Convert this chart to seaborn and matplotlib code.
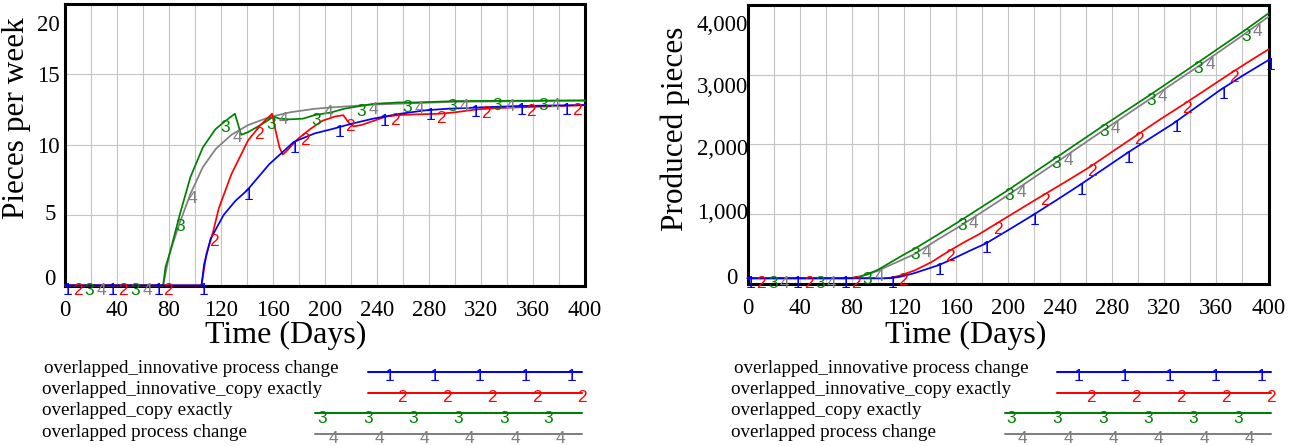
import numpy as np
import pandas as pd
import matplotlib
matplotlib.use("Agg")
import matplotlib.pyplot as plt
import seaborn as sns
from matplotlib.lines import Line2D
from matplotlib.transforms import ScaledTranslation

# ---------------- data ----------------
series_names = [
    "overlapped_innovative process change",
    "overlapped_innovative_copy exactly",
    "overlapped_copy exactly",
    "overlapped process change",
]
series_marks = ["1", "2", "3", "4"]
series_colors = ["#0000ff", "#ff0000", "#008000", "#808080"]

# Left chart: pieces per week
rate_t_1 = [0, 105, 107, 112, 122, 131, 140, 157, 176, 192, 205, 221, 237, 258, 278, 294, 319, 349, 400]
rate_v_1 = [0, 0, 1.5, 3.3, 5.0, 6.0, 6.75, 8.6, 10.2, 10.8, 11.1, 11.5, 11.85, 12.2, 12.45, 12.55, 12.65, 12.75, 12.82]

rate_t_2 = [0, 105, 108.8, 113.6, 118.4, 128, 140.8, 150.4, 159.3, 162, 165, 167.5, 170, 174, 179, 188.5, 198,
            207.7, 214, 218.8, 222, 228, 237.6, 247, 256.5, 269, 288, 300, 316, 332, 364, 400]
rate_v_2 = [0, 0, 2.25, 3.7, 5.5, 7.9, 10.3, 11.4, 12.2, 11.0, 9.8, 9.3, 9.5, 9.9, 10.4, 11.1, 11.7,
            12.0, 12.1, 11.5, 11.3, 11.4, 11.7, 12.0, 12.1, 12.15, 12.2, 12.3, 12.5, 12.6, 12.7, 12.8]

rate_t_3 = [0, 75.5, 77.3, 80.5, 88.5, 96.5, 106, 115.7, 123.6, 130.7, 135.5, 141, 147.6, 154, 160.4, 165,
            173, 183, 192, 205, 214.5, 224, 237, 256, 269, 301, 400]
rate_v_3 = [0, 0, 1.3, 2.25, 5.1, 7.7, 9.8, 11.1, 11.7, 12.2, 10.7, 10.9, 11.25, 11.6, 12.0, 11.85,
            11.8, 11.85, 12.1, 12.3, 12.55, 12.7, 12.9, 13.0, 13.0, 13.1, 13.15]

rate_t_4 = [0, 75.5, 80.5, 88.5, 96.5, 106, 116, 128, 141, 157, 173, 192, 205, 237, 269, 301, 400]
rate_v_4 = [0, 0, 2.3, 4.5, 6.5, 8.4, 9.7, 10.7, 11.4, 11.95, 12.3, 12.55, 12.65, 12.85, 12.95, 13.05, 13.13]

# Right chart: produced pieces
cum_t_1 = [0, 105, 110, 116, 128, 140, 147, 157, 170, 183, 200, 219, 237, 255, 273, 291, 309, 327, 345, 363, 381, 400]
cum_v_1 = [75, 75, 78, 92, 148, 222, 265, 348, 465, 575, 765, 981, 1195, 1413, 1640, 1868, 2085, 2299, 2540, 2780, 2995, 3209]

cum_t_2 = [0, 105, 109, 116, 128, 141, 155, 168, 178, 191, 209, 227, 245, 263, 281, 299, 317, 336, 354, 372, 386, 400]
cum_v_2 = [75, 75, 80, 108, 185, 305, 470, 610, 710, 860, 1065, 1269, 1470, 1676, 1905, 2132, 2360, 2587, 2810, 3033, 3200, 3363]

cum_t_3 = [0, 75, 80, 86, 92, 100, 110, 120, 128, 146, 164, 182, 200, 236, 272, 309, 345, 381, 400]
cum_v_3 = [75, 75, 80, 100, 135, 195, 305, 415, 495, 700, 909, 1125, 1341, 1796, 2252, 2708, 3163, 3625, 3880]

cum_t_4 = [0, 75, 80, 86, 92, 100, 110, 128, 146, 164, 182, 200, 236, 272, 309, 345, 381, 400]
cum_v_4 = [75, 75, 79, 96, 128, 182, 268, 420, 630, 834, 1050, 1270, 1725, 2185, 2650, 3105, 3575, 3832]

x_major = list(range(0, 401, 40))
x_minor = list(range(0, 401, 20))
left_yticks = [0, 5, 10, 15, 20]
left_yticklabels = ["0", "5", "10", "15", "20"]
right_yticks = [0, 1000, 2000, 3000, 4000]
right_yticklabels = ["0", "1,000", "2,000", "3,000", "4,000"]

# ---------------- style ----------------
sns.set_theme(style="white")
plt.rcParams["font.family"] = ["Liberation Serif", "DejaVu Serif"]
SANS = ["Liberation Sans", "DejaVu Sans"]

W, H, DPI = 1294, 446, 100
fig = plt.figure(figsize=(W / DPI, H / DPI), dpi=DPI)
fig.patch.set_facecolor("white")


def px_axes(x0, x1, top, bottom):
    return fig.add_axes([x0 / W, 1 - bottom / H, (x1 - x0) / W, (bottom - top) / H])


def draw_chart(ax, ts, vs, ylim, yticks, yticklabels, ylabel, step, offsets,
               ypad, label_shifts, ylabel_xy, xlabel_xy):
    frames = [pd.DataFrame({"t": t, "v": v, "series": n}) for n, t, v in zip(series_names, ts, vs)]
    df = pd.concat(frames, ignore_index=True)
    sns.lineplot(data=df, x="t", y="v", hue="series", hue_order=series_names[::-1],
                 palette=dict(zip(series_names, series_colors)), estimator=None, sort=False,
                 legend=False, ax=ax, linewidth=1.25)
    for ln in ax.lines:
        ln.set_clip_on(False)
        ln.set_zorder(3)

    up = ScaledTranslation(0, 2.5 / DPI, fig.dpi_scale_trans)
    for i, (t, v) in enumerate(zip(ts, vs)):
        tc = offsets[i]
        while tc <= 402.5:
            val = np.interp(tc - 1.5, t, v)
            ax.text(tc, val, series_marks[i], color=series_colors[i], fontsize=12.5, family=SANS,
                    ha="center", va="top", transform=ax.transData + up, clip_on=False, zorder=5)
            tc += step

    ax.set_xlim(0, 400)
    ax.set_ylim(*ylim)
    ax.set_xticks(x_major)
    ax.set_xticks(x_minor, minor=True)
    ax.set_xticklabels([str(x) for x in x_major])
    ax.set_yticks(yticks)
    ax.set_yticklabels(yticklabels)
    ax.set_axisbelow(True)
    ax.grid(True, which="both", axis="x", color="#c4c4c4", linewidth=0.8)
    ax.grid(True, which="major", axis="y", color="#c4c4c4", linewidth=0.8)
    ax.tick_params(which="both", length=0)
    ax.tick_params(axis="x", pad=10.3, labelsize=16.5, colors="black")
    ax.tick_params(axis="y", pad=ypad, labelsize=16.5, colors="black")
    for s in ax.spines.values():
        s.set_visible(True)
        s.set_color("black")
        s.set_linewidth(2.2)
    for lbl, (dx, dy) in zip(ax.get_yticklabels(), label_shifts):
        lbl.set_transform(lbl.get_transform() + ScaledTranslation(dx / DPI, -dy / DPI, fig.dpi_scale_trans))

    ax.set_ylabel(ylabel, fontsize=22.5, color="black")
    ax.yaxis.label.set_va("center")
    ax.yaxis.set_label_coords(*ylabel_xy)
    ax.set_xlabel("Time (Days)", fontsize=23, color="black")
    ax.xaxis.label.set_va("center")
    ax.xaxis.set_label_coords(*xlabel_xy)


axL = px_axes(65, 585, 4, 285.5)
draw_chart(axL, [rate_t_1, rate_t_2, rate_t_3, rate_t_4], [rate_v_1, rate_v_2, rate_v_3, rate_v_4],
           (-0.01, 20), left_yticks, left_yticklabels, "Pieces per week", 34.9, [1.8, 9.7, 18.7, 28.2],
           3.6, [(-4.5, -8.6), (-4, -3), (0, 0), (0, -0.5), (0, 18.6)],
           ((16.7 - 65) / 520, (285.5 - 118.5) / 281.5), ((285.5 - 65) / 520, (285.5 - 335) / 281.5))

axR = px_axes(747.5, 1268.5, 5, 283.5)
draw_chart(axR, [cum_t_1, cum_t_2, cum_t_3, cum_t_4], [cum_v_1, cum_v_2, cum_v_3, cum_v_4],
           (0, 4000), right_yticks, right_yticklabels, "Produced pieces", 36.3, [2.3, 10.5, 19.5, 28.5],
           -0.4, [(-11, -8), (0, -2.8), (0, 2.7), (0, 10.5), (0, 18.3)],
           ((675 - 747.5) / 521, (283.5 - 128.5) / 278.5), ((966 - 747.5) / 521, (283.5 - 335) / 278.5))

# ---------------- legends (below each chart) ----------------
text_x = [44, 41.7, 41.7, 41.7]
text_base = [373.3, 394.3, 415.3, 436.7]
line_y = [372, 392.7, 413.3, 433.7]
line_x0 = [367.7, 367.7, 315, 315]
line_x1 = 581.7
mark_x = [
    [389.3, 435, 480, 525.7, 571.7],
    [401.7, 446.7, 491.7, 536.7, 581.7],
    [321.7, 367.7, 413.3, 458.3, 504, 548.3],
    [333.3, 379, 424, 469.3, 515, 560],
]

for shift in (0, 689.5):
    for i in range(4):
        fig.text((text_x[i] + shift) / W, 1 - text_base[i] / H, series_names[i], fontsize=13.7,
                 color="black", ha="left", va="baseline")
        fig.add_artist(Line2D([(line_x0[i] + shift) / W, (line_x1 + shift) / W],
                              [1 - line_y[i] / H, 1 - line_y[i] / H],
                              transform=fig.transFigure, color=series_colors[i], linewidth=1.45))
        for mx in mark_x[i]:
            fig.text((mx + shift) / W, 1 - (line_y[i] - 2.7) / H, series_marks[i], fontsize=12.5,
                     family=SANS, color=series_colors[i], ha="center", va="top")

fig.savefig("out.png", dpi=DPI)
